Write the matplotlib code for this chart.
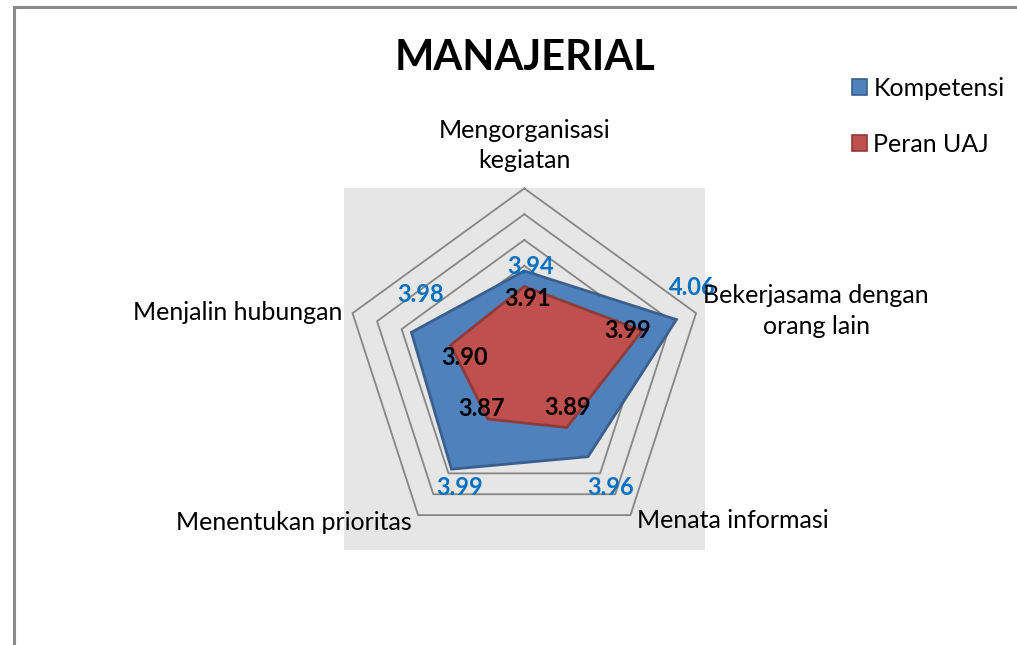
import numpy as np
import matplotlib
matplotlib.use("Agg")
import matplotlib.pyplot as plt
from matplotlib.patches import Patch, Rectangle

plt.rcParams['font.family'] = ['Lato', 'DejaVu Sans']

# data
categories = ['Mengorganisasi\nkegiatan', 'Bekerjasama dengan\norang lain',
              'Menata informasi', 'Menentukan prioritas', 'Menjalin hubungan']
kompetensi = [3.94, 4.06, 3.96, 3.99, 3.98]
peran_uaj = [3.91, 3.99, 3.89, 3.87, 3.90]
ring_levels = [3.80, 3.85, 3.90, 3.95, 4.00, 4.05, 4.10]
r_min, r_max = 3.75, 4.10

blue_fill, blue_edge = '#4F81BD', '#3A5F8E'
red_fill, red_edge = '#C0504D', '#8E3B39'

fig = plt.figure(figsize=(10.17, 6.45), dpi=100)
fig.patch.set_facecolor('white')

W, H = 1017, 645
def fx(px):
    return px / W
def fy(py):
    return 1 - py / H

# chart border (cropped at right / bottom)
fig.patches.append(Rectangle((fx(13.5), fy(700)), fx(1100), (700 - 7) / H,
                             transform=fig.transFigure, fill=False,
                             edgecolor='#8a8a8a', linewidth=2.2, zorder=0))

# plot area
left, top, size_w, size_h = 343.7, 188.4, 361.2, 361.2
box = [fx(left), fy(top + size_h), size_w / W, size_h / H]
bg = fig.add_axes(box)
bg.set_facecolor('#e6e6e6')
bg.set_xticks([])
bg.set_yticks([])
for s in bg.spines.values():
    s.set_visible(False)

ax = fig.add_axes(box, projection='polar')
ax.patch.set_alpha(0)
ax.set_theta_offset(np.pi / 2)
ax.set_theta_direction(-1)
ax.set_ylim(r_min, r_max)
ax.grid(False)
ax.spines['polar'].set_visible(False)
ax.set_xticks([])
ax.set_yticks([])

n = len(categories)
angles = np.linspace(0, 2 * np.pi, n, endpoint=False)
ang_c = np.append(angles, angles[0])

for lvl in ring_levels:
    ax.plot(ang_c, [lvl] * (n + 1), color='#868686', lw=1.3, clip_on=False, zorder=1)

k_c = kompetensi + kompetensi[:1]
p_c = peran_uaj + peran_uaj[:1]
ax.fill(ang_c, k_c, facecolor=blue_fill, edgecolor=blue_edge, lw=2.0, zorder=2)
ax.fill(ang_c, p_c, facecolor=red_fill, edgecolor=red_edge, lw=2.0, zorder=3)

# data labels
k_off = [(6, 4), (16, 32), (23, -31), (8, -18), (9, 38)]
p_off = [(3, -12), (-14, 0), (1, 20), (-6, 11), (14, -12)]
for a, v, o in zip(angles, kompetensi, k_off):
    ax.annotate(f'{v:.2f}', (a, v), xytext=o, textcoords='offset pixels',
                ha='center', va='center', fontsize=17, fontweight='bold',
                color='#0070C0', zorder=5, annotation_clip=False)
for a, v, o in zip(angles, peran_uaj, p_off):
    ax.annotate(f'{v:.2f}', (a, v), xytext=o, textcoords='offset pixels',
                ha='center', va='center', fontsize=17, fontweight='bold',
                color='black', zorder=5, annotation_clip=False)

# category labels
cat_pos = [((0, 43), 'center'), ((120, 2), 'center'), ((7, -5), 'left'),
           ((-6, -7), 'right'), ((-10, 1), 'right')]
for a, lab, (o, ha) in zip(angles, categories, cat_pos):
    ax.annotate(lab, (a, r_max), xytext=o, textcoords='offset pixels',
                ha=ha, va='center', fontsize=18, color='black',
                linespacing=1.4, zorder=6, annotation_clip=False)

fig.text(fx(525.5), fy(58), 'MANAJERIAL', ha='center', va='center',
         fontsize=30, fontweight='bold', color='black')

handles = [Patch(facecolor=blue_fill, edgecolor=blue_edge, lw=1.2),
           Patch(facecolor=red_fill, edgecolor=red_edge, lw=1.2)]
fig.legend(handles, ['Kompetensi', 'Peran UAJ'], loc='upper left',
           bbox_to_anchor=(fx(852), fy(77)), frameon=False, fontsize=18,
           handlelength=0.6, handleheight=0.6, handletextpad=0.25,
           labelspacing=1.3, borderaxespad=0, borderpad=0)

fig.savefig('out.png', dpi=100, facecolor='white')
